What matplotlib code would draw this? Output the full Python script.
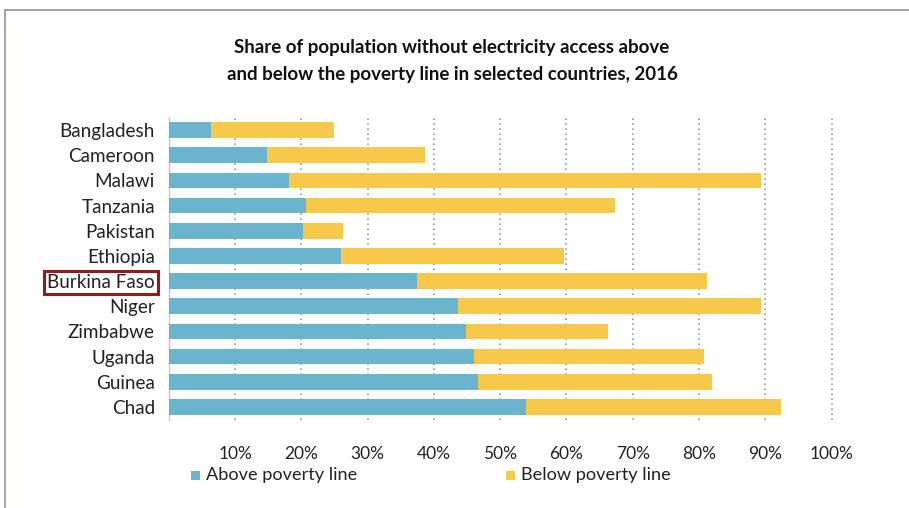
import matplotlib
matplotlib.use("Agg")
import matplotlib.pyplot as plt
from matplotlib.patches import Rectangle

countries = ["Bangladesh", "Cameroon", "Malawi", "Tanzania", "Pakistan", "Ethiopia",
             "Burkina Faso", "Niger", "Zimbabwe", "Uganda", "Guinea", "Chad"]
above = [6.4, 14.8, 18.2, 20.7, 20.3, 26.0, 37.4, 43.7, 44.9, 46.0, 46.7, 53.9]
total = [25.0, 38.7, 89.3, 67.3, 26.3, 59.6, 81.2, 89.4, 66.3, 80.7, 82.0, 92.4]
below = [t - a for t, a in zip(total, above)]
xticks = [10, 20, 30, 40, 50, 60, 70, 80, 90, 100]
xticklabels = [f"{v}%" for v in xticks]
title = "Share of population without electricity access above\nand below the poverty line in selected countries, 2016"
highlight = "Burkina Faso"
legend_labels = ["Above poverty line", "Below poverty line"]

BLUE = "#6AB4CD"
YELLOW = "#F7C94A"

W, H = 909, 508
fig = plt.figure(figsize=(W / 100, H / 100), dpi=100)
fig.patch.set_facecolor("white")

# frame of the screenshot
fig.add_artist(Rectangle((5 / W, -0.1), 1.2, 1 - 10 / H + 0.1, transform=fig.transFigure,
                         facecolor="none", edgecolor="#8a94a6", lw=1.2))

ax = fig.add_axes([168.8 / W, 1 - 420 / H, 676 / W, (420 - 117) / H])
y = list(range(len(countries)))
ax.barh(y, above, height=0.62, color=BLUE, zorder=3)
ax.barh(y, below, left=above, height=0.62, color=YELLOW, zorder=3)

ax.set_xlim(0, 102)
ax.set_ylim(len(countries) - 0.48, -0.52)
ax.set_xticks(xticks)
ax.set_xticklabels(xticklabels, fontsize=12.5, family="Lato", color="#222222")
ax.set_yticks(y)
ax.set_yticklabels(countries, fontsize=13.6, family="Lato", color="#222222")
ax.tick_params(axis="both", length=0)
ax.tick_params(axis="x", pad=19)
ax.tick_params(axis="y", pad=10)
ax.xaxis.grid(True, linestyle=(0, (1, 2)), color="#9a9a9a", lw=1.2, zorder=0)
for s in ["top", "right", "bottom"]:
    ax.spines[s].set_visible(False)
ax.spines["left"].set_color("#c8c8c8")
ax.spines["left"].set_linewidth(1)

for lbl in ax.get_yticklabels():
    if lbl.get_text() == highlight:
        lbl.set_bbox(dict(facecolor="white", edgecolor="#8B1E1E", lw=2.2, pad=2.5))

fig.text(452 / W, 1 - 61 / H, title, ha="center", va="center", fontsize=13.5,
         fontweight="bold", family="Lato", color="#111111", linespacing=1.65)

# legend
for x0, lab, col in [(191, legend_labels[0], BLUE), (506, legend_labels[1], YELLOW)]:
    fig.add_artist(Rectangle((x0 / W, 1 - 480 / H), 9 / W, 9 / H, transform=fig.transFigure,
                             facecolor=col, edgecolor="none"))
    fig.text((x0 + 15) / W, 1 - 475 / H, lab, ha="left", va="center", fontsize=13.1,
             family="Lato", color="#222222")

fig.savefig("out.png", dpi=100)
